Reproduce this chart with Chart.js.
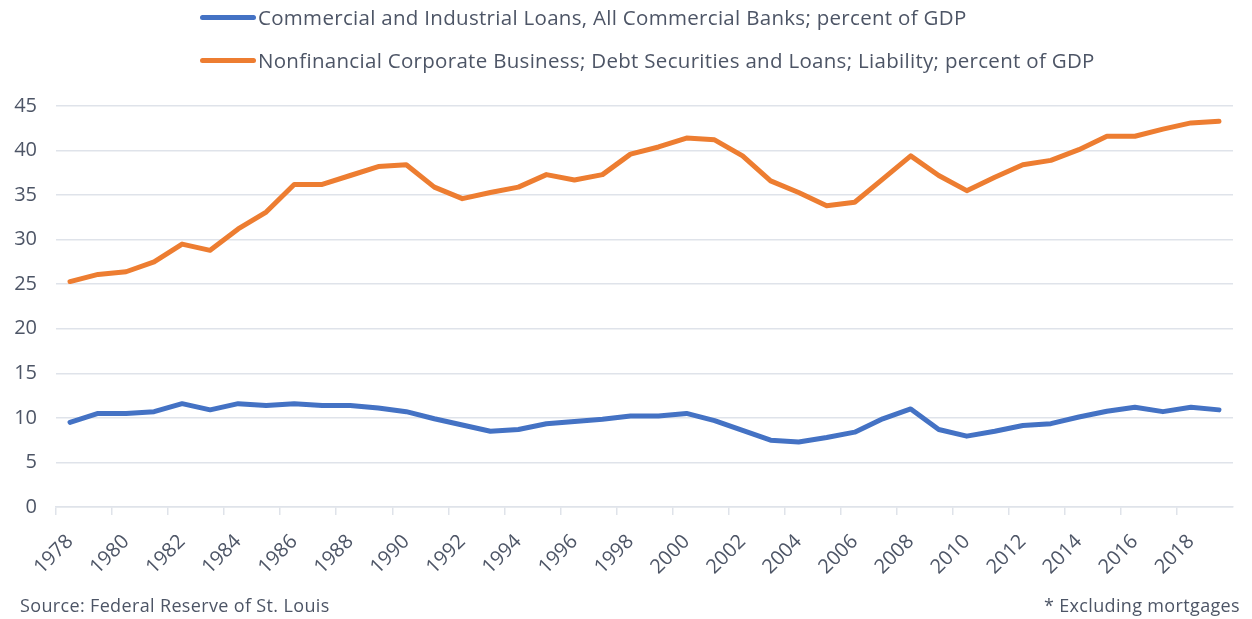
<!DOCTYPE html>
<html>
<head>
<meta charset="utf-8">
<script src="https://cdn.jsdelivr.net/npm/chart.js@4.4.1/dist/chart.umd.min.js"></script>
<style>
  html, body { margin: 0; padding: 0; background: #fff; }
  #wrap { position: relative; width: 1252px; height: 619px; font-family: "Open Sans", sans-serif; color: #4d5566; }
  #chart { position: absolute; left: 0; top: 0; }
  .leg { position: absolute; left: 200px; font-size: 20.5px; letter-spacing: 0.3px; white-space: nowrap; display: flex; align-items: center; }
  .leg i { display: inline-block; width: 56px; height: 5px; border-radius: 3px; margin-right: 2px; }
  .note { position: absolute; font-size: 18px; letter-spacing: 0.35px; white-space: nowrap; }
</style>
</head>
<body>
<div id="wrap">
  <canvas id="chart" width="1252" height="619"></canvas>
  <div class="leg" style="top:3px"><i style="background:#4472c4"></i>Commercial and Industrial Loans, All Commercial Banks; percent of GDP</div>
  <div class="leg" style="top:46px"><i style="background:#ed7d31"></i>Nonfinancial Corporate Business; Debt Securities and Loans; Liability; percent of GDP</div>
  <div class="note" style="left:20px; top:593px">Source: Federal Reserve of St. Louis</div>
  <div class="note" style="right:12px; top:593px">* Excluding mortgages</div>
</div>
<script>
// annual observations 1978–2019
const years = ['1978','1979','1980','1981','1982','1983','1984','1985','1986','1987','1988','1989','1990','1991',
  '1992','1993','1994','1995','1996','1997','1998','1999','2000','2001','2002','2003','2004','2005',
  '2006','2007','2008','2009','2010','2011','2012','2013','2014','2015','2016','2017','2018','2019'];

const ciLoans = [9.5,10.5,10.5,10.7,11.6,10.9,11.6,11.4,11.6,11.4,11.4,11.1,10.7,9.9,
  9.2,8.5,8.7,9.35,9.6,9.85,10.2,10.2,10.5,9.7,8.6,7.5,7.3,7.8,
  8.4,9.9,11.0,8.7,7.95,8.5,9.15,9.35,10.1,10.75,11.2,10.7,11.2,10.9];

const corpDebt = [25.3,26.1,26.4,27.5,29.5,28.8,31.2,33.1,36.2,36.2,37.2,38.2,38.4,35.9,
  34.6,35.3,35.9,37.3,36.7,37.3,39.6,40.4,41.4,41.2,39.4,36.6,35.3,33.8,
  34.2,36.8,39.4,37.2,35.5,37.0,38.4,38.9,40.1,41.6,41.6,42.4,43.1,43.3];

const yMin = 0, yMax = 45, yStep = 5;

const textColor = '#4d5566';
const gridColor = '#dfe3ea';

new Chart(document.getElementById('chart'), {
  type: 'line',
  data: {
    labels: years,
    datasets: [
      { label: 'Commercial and Industrial Loans, All Commercial Banks; percent of GDP', data: ciLoans,
        borderColor: '#4472c4', backgroundColor: '#4472c4', borderWidth: 5, pointRadius: 0, tension: 0, borderCapStyle: 'round', borderJoinStyle: 'round' },
      { label: 'Nonfinancial Corporate Business; Debt Securities and Loans; Liability; percent of GDP', data: corpDebt,
        borderColor: '#ed7d31', backgroundColor: '#ed7d31', borderWidth: 5, pointRadius: 0, tension: 0, borderCapStyle: 'round', borderJoinStyle: 'round' }
    ]
  },
  options: {
    responsive: false,
    animation: false,
    layout: { padding: { top: 106, left: 12, right: 19, bottom: 42 } },
    plugins: { legend: { display: false }, tooltip: { enabled: false } },
    scales: {
      x: {
        offset: true,
        // fixed axis height so the plot bottom lands where the original does
        afterFit: s => { s.height = 70; },
        grid: { offset: true, drawOnChartArea: false, tickLength: 8, lineWidth: 1.5,
          color: ctx => ctx.index % 2 === 0 ? gridColor : 'rgba(0,0,0,0)' },
        border: { color: gridColor, width: 1.5 },
        ticks: { autoSkip: false, maxRotation: 45, minRotation: 45, color: textColor, padding: 15,
          font: { family: 'Open Sans', size: 20 },
          callback: (v, i) => i % 2 === 0 ? years[i] : '' }
      },
      y: {
        min: yMin, max: yMax,
        // fixed axis width so the plot starts where the original does
        afterFit: s => { s.width = 44; },
        grid: { color: gridColor, lineWidth: 1.5, drawTicks: false },
        border: { display: false },
        ticks: { stepSize: yStep, color: textColor, padding: 19, font: { family: 'Open Sans', size: 20 } }
      }
    }
  }
});
</script>
</body>
</html>
